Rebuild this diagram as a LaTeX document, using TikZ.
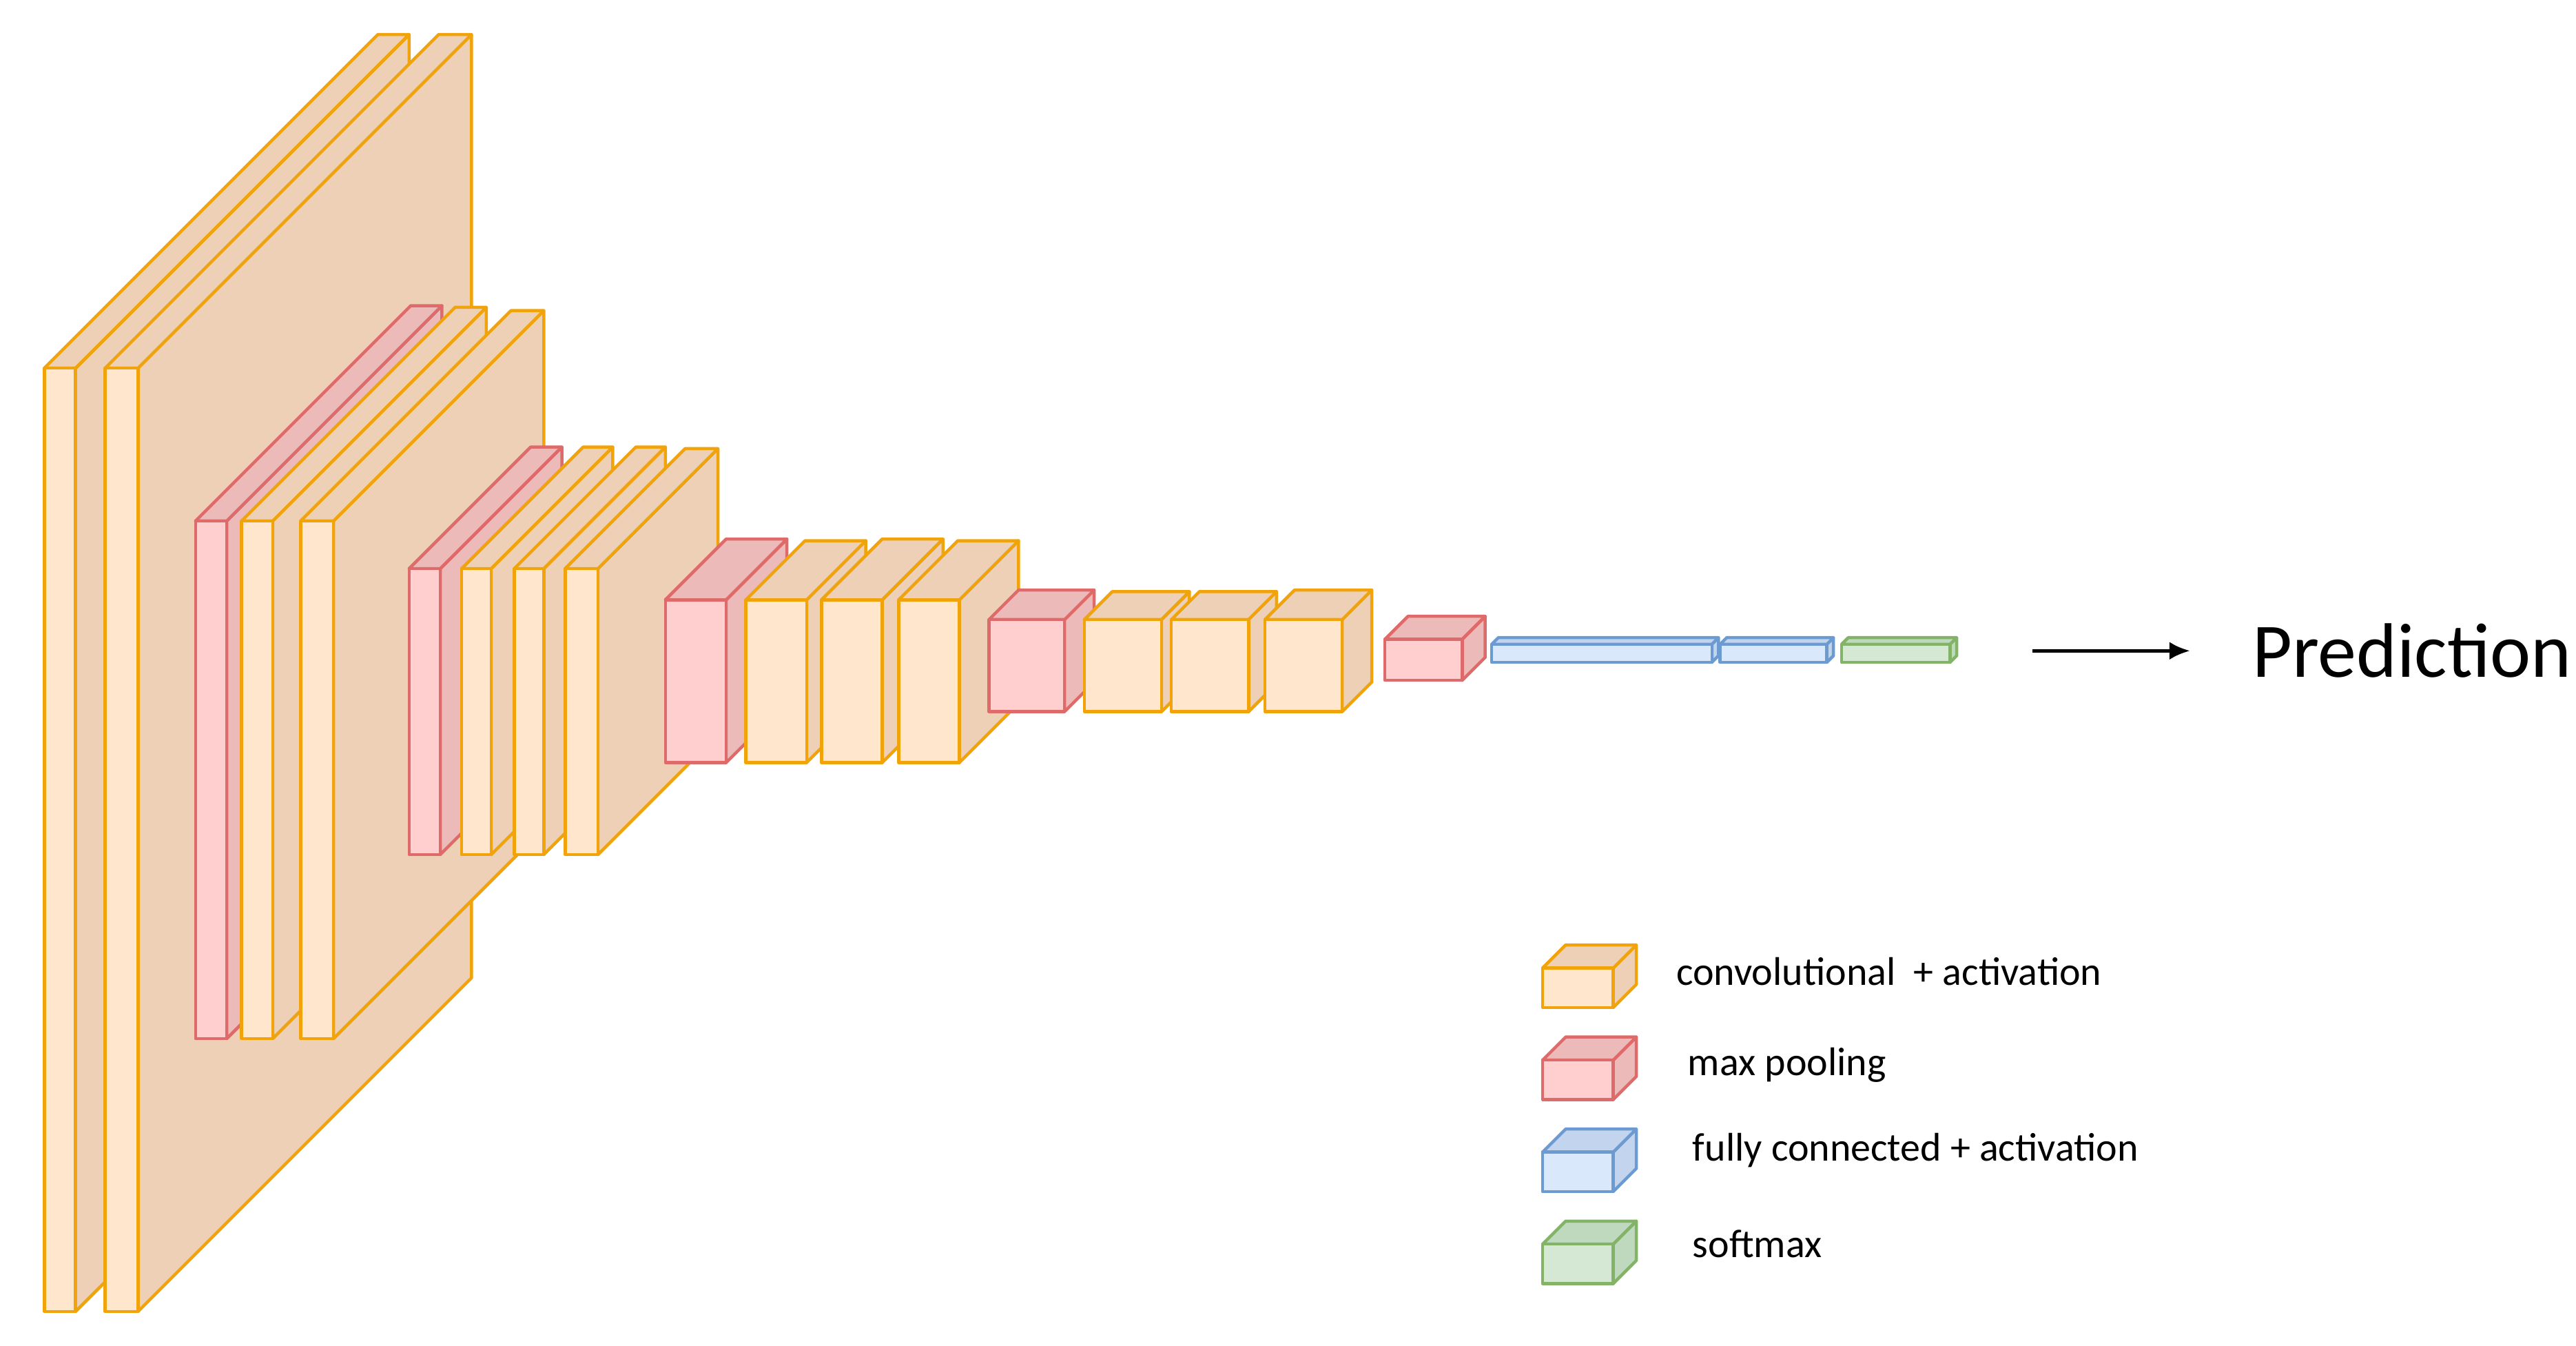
\documentclass[tikz,border=0pt]{standalone}
\usepackage{fontspec}
\setmainfont{Carlito}
\usetikzlibrary{arrows.meta}
\definecolor{cF}{HTML}{FFE6CC}\definecolor{cS}{HTML}{EDD0B5}\definecolor{cD}{HTML}{F0A30A}
\definecolor{pF}{HTML}{FFCECE}\definecolor{pS}{HTML}{EDBABA}\definecolor{pD}{HTML}{DE6A6A}
\definecolor{bF}{HTML}{DAE8FC}\definecolor{bS}{HTML}{C3D5EE}\definecolor{bD}{HTML}{6C9BD2}
\definecolor{gF}{HTML}{D5E8D4}\definecolor{gS}{HTML}{BFD9BE}\definecolor{gD}{HTML}{82B366}
% \cub{x1}{y1}{x2}{y2}{d}{prefix}
\newcommand\cub[6]{%
 \filldraw[draw=#6D,fill=#6S] (#3,#2) -- ++(#5,-#5) -- (#3+#5,#4-#5) -- (#3,#4) -- cycle;
 \filldraw[draw=#6D,fill=#6S] (#1,#2) -- ++(#5,-#5) -- (#3+#5,#2-#5) -- (#3,#2) -- cycle;
 \filldraw[draw=#6D,fill=#6F] (#1,#2) rectangle (#3,#4);}
\begin{document}
\begin{tikzpicture}[x=2.3846pt,y=-2.3846pt,line width=4.5pt,line join=round,
  leg/.style={anchor=west,font=\fontsize{58}{70}\selectfont}]
\useasboundingbox[fill=white] (0,0) rectangle (1568,818.6);
\cub{27}{224}{46}{798}{203}{c}
\cub{64}{224}{84}{798}{203}{c}
\cub{119}{317}{138}{632}{131}{p}
\cub{147}{317}{166}{632}{130}{c}
\cub{183}{317}{203}{632}{128}{c}
\cub{249}{346}{268}{520}{74}{p}
\cub{281}{346}{299}{520}{74}{c}
\cub{313}{346}{331}{520}{74}{c}
\cub{344}{346}{364}{520}{73}{c}
\cub{405}{365}{442}{464}{37}{p}
\cub{454}{365}{491}{464}{36}{c}
\cub{500}{365}{537}{464}{37}{c}
\cub{547}{365}{584}{464}{36}{c}
\cub{602}{377}{648}{433}{18}{p}
\cub{660}{377}{707}{433}{17}{c}
\cub{713}{377}{760}{433}{17}{c}
\cub{770}{377}{817}{433}{18}{c}
\cub{843}{389}{890}{414}{14}{p}
\cub{908}{392}{1042}{403}{4}{b}
\cub{1047}{392}{1112}{403}{4}{b}
\cub{1121}{392}{1187}{403}{4}{g}
\coordinate (a0) at (1237,396);
\node[anchor=west,inner sep=0,font=\fontsize{112}{130}\selectfont] (pred) at (1370,396) {Prediction};
\draw[-{Latex[length=30pt,width=26pt]},line width=5pt] (a0) -- ([xshift=-88pt]pred.west);
\cub{939}{589}{982}{613}{14}{c}
\cub{939}{645}{982}{669}{14}{p}
\cub{939}{701}{982}{725}{14}{b}
\cub{939}{757}{982}{781}{14}{g}
\node[leg] (l1) at (1018,591) {convolutional\ \ + activation};
\node[leg] (l2) at (1025,648) {max pooling};
\node[leg] (l3) at (1028,700) {fully connected + activation};
\node[leg] (l4) at (1028,757) {softmax};
\end{tikzpicture}
\end{document}
